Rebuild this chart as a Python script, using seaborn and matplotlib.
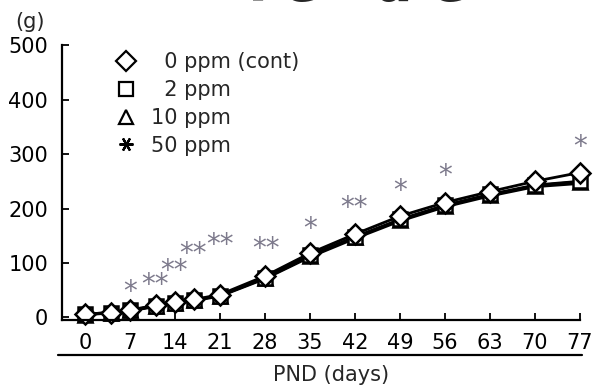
import pandas as pd
import matplotlib
matplotlib.use("Agg")
import matplotlib.pyplot as plt
from matplotlib.lines import Line2D
import seaborn as sns

# postnatal days and body weight (g) per dose group
days = [0, 4, 7, 11, 14, 17, 21, 28, 35, 42, 49, 56, 63, 70, 77]
w_0ppm = [6, 9, 14, 22, 28, 33, 42, 76, 118, 153, 186, 211, 231, 250, 266]
w_2ppm = [6, 9, 13, 21, 27, 32, 40, 73, 114, 148, 180, 206, 226, 243, 250]
w_10ppm = [5, 9, 13, 21, 27, 32, 40, 72, 113, 147, 179, 205, 225, 242, 249]
w_50ppm = [5, 8, 12, 20, 26, 31, 39, 71, 111, 145, 177, 203, 223, 240, 246]

doses = ["0 ppm (cont)", "2 ppm", "10 ppm", "50 ppm"]
legend_labels = ["  0 ppm (cont)", "  2 ppm", "10 ppm", "50 ppm"]

# significance marks
sig_days = [7, 10.8, 13.8, 16.8, 21, 28.2, 35, 41.8, 49, 56, 77]
sig_y = [54, 67, 92, 124, 140, 133, 170, 208, 239, 267, 320]
sig_txt = ["*", "**", "**", "**", "**", "**", "*", "**", "*", "*", "*"]

df = pd.DataFrame({
    "day": days * 4,
    "weight": w_0ppm + w_2ppm + w_10ppm + w_50ppm,
    "dose": [d for d in doses for _ in days],
})

sns.set_style("ticks")
plt.rcParams["font.family"] = ["DejaVu Sans"]
fs = 15

fig = plt.figure(figsize=(5.96, 3.89), dpi=100)
ax = fig.add_axes([0.104, 0.177, 0.869, 0.707])

markers = {"0 ppm (cont)": "D", "2 ppm": "s", "10 ppm": "^", "50 ppm": (6, 2, 90)}

# draw 50 ppm first so the open markers of the others sit on top
for d in doses[::-1]:
    sns.lineplot(data=df[df["dose"] == d], x="day", y="weight", color="black",
                 marker=markers[d], lw=2.0, markersize=10, markeredgecolor="black",
                 markerfacecolor="white", markeredgewidth=1.8, ax=ax, clip_on=False)

# the asterisk glyph sits high in its box, nudge it down a little
for x, y, t in zip(sig_days, sig_y, sig_txt):
    ax.annotate(t, (x, y), xytext=(0, -3), textcoords="offset points",
                ha="center", va="center", fontsize=20, color="#7d7a8c")

ax.set_xlim(-3.6, 77)
ax.set_ylim(-5, 500)
ax.set_xticks(range(0, 78, 7))
ax.set_yticks(range(0, 501, 100))
ax.tick_params(direction="in", length=5, width=1.3, labelsize=fs, colors="black")
ax.tick_params(axis="y", pad=10)
ax.tick_params(axis="x", pad=9.5)
for s in ["left", "bottom"]:
    ax.spines[s].set_linewidth(1.6)
    ax.spines[s].set_color("black")
sns.despine(ax=ax)

ax.set_xlabel("PND (days)", fontsize=fs, va="center")
ax.xaxis.set_label_coords(0.52, -0.2)
ax.set_ylabel("")
ax.text(-0.062, 1.084, "(g)", transform=ax.transAxes, ha="center", va="center",
        fontsize=fs)
ax.plot([-0.008, 1.004], [-0.127, -0.127], transform=ax.transAxes, color="black",
        lw=1.6, clip_on=False)

handles = [Line2D([], [], ls="none", marker=markers[d], color="black",
                  markerfacecolor="white", markersize=10, markeredgewidth=1.6)
           for d in doses]
ax.legend(handles, legend_labels, loc="upper left", bbox_to_anchor=(0.104, 0.975),
          frameon=False, fontsize=fs, handlelength=1.0, handletextpad=0.7,
          labelspacing=0.38, borderpad=0, borderaxespad=0)

fig.text(0.60, 1.0, "Female", ha="center", va="baseline", fontsize=39,
         fontweight="bold")

fig.savefig("out.png", dpi=100)
